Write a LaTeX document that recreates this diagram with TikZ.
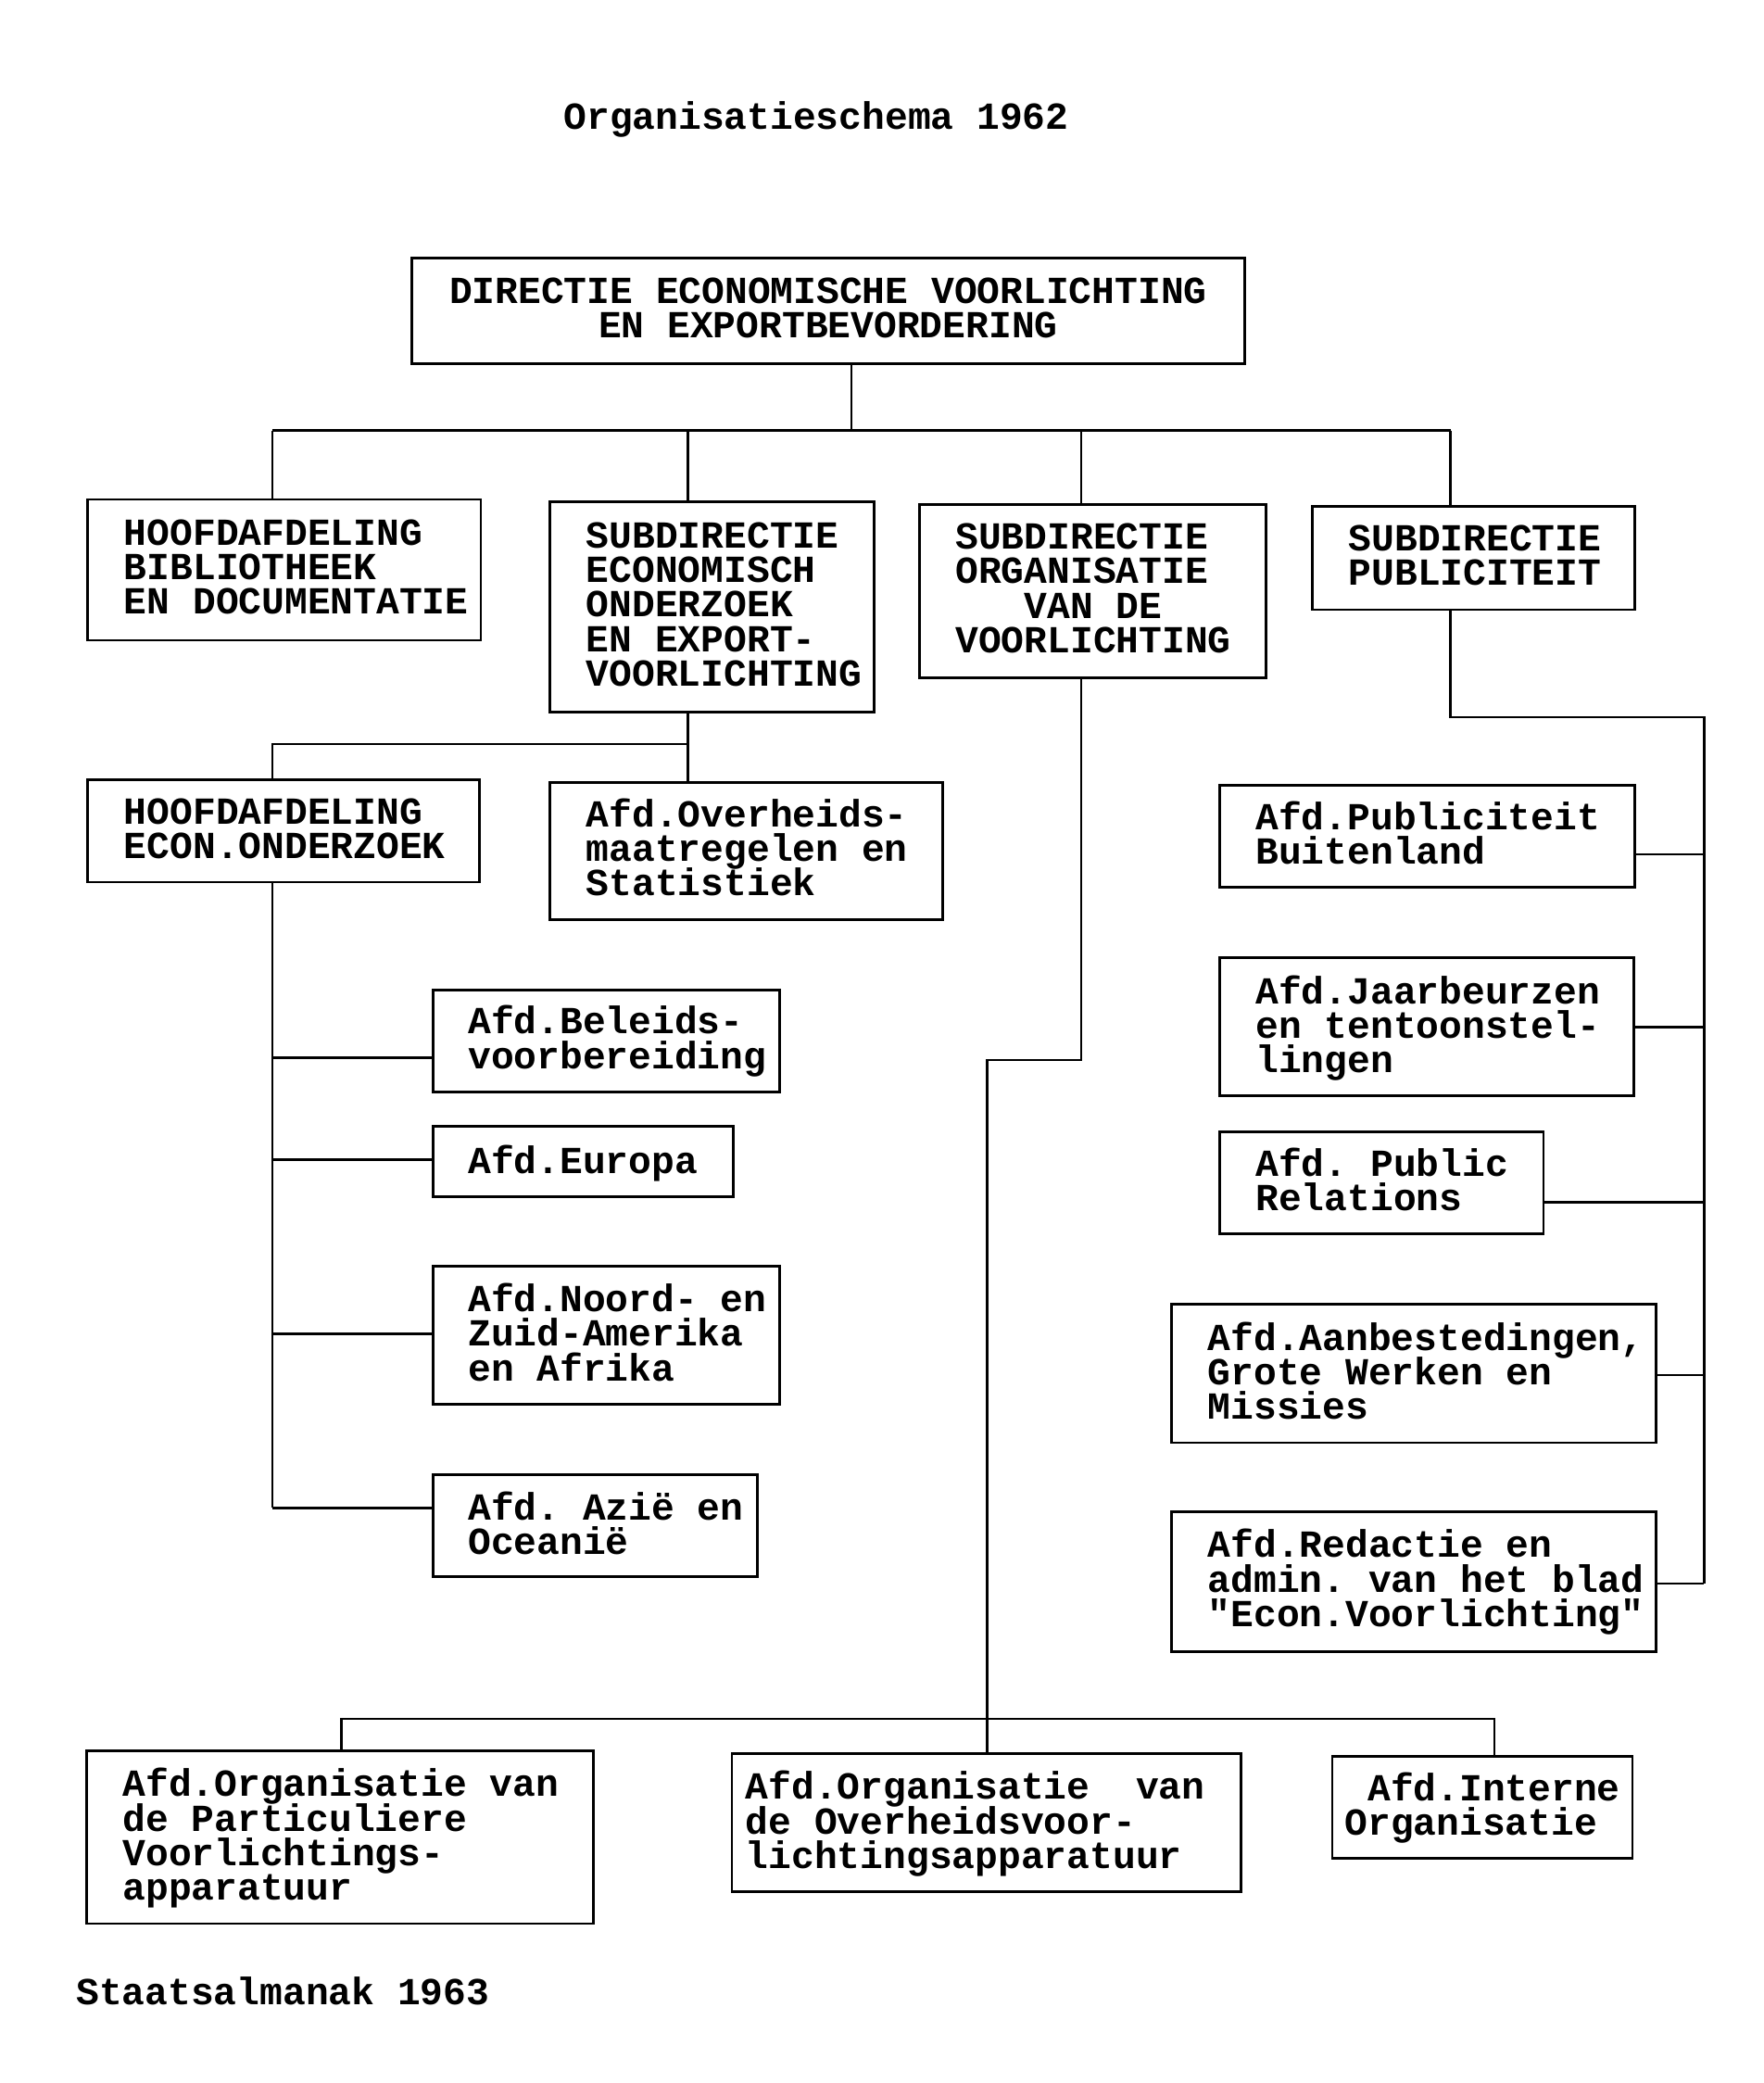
\documentclass[tikz,border=0pt]{standalone}
\usepackage{fontspec}
\newfontfamily\twfont{Liberation Mono}
\newcommand\boxfont{\twfont\bfseries\fontsize{14.4}{13}\selectfont\frenchspacing\lineskiplimit=-50pt\lineskip=0pt}
\newcommand\topstrut{\rule{0pt}{14pt}}
\tikzset{
  box/.style={draw, line width=1pt, inner sep=0pt, rectangle},
  txt/.style={inner sep=0pt, align=left, font=\boxfont},
  conn/.style={line width=0.9pt},
}
% #1 name, #2-#5 corners, #6 left padding, #7 first line y (middle of capitals), #8 text
\newcommand\bx[8]{%
  \node[box, minimum width=(#4-#2)*0.5pt, minimum height=(#5-#3)*0.5pt] (#1) at ({(#2+#4)/2},{(#3+#5)/2}) {};
  \node[txt, anchor=north west] (#1t) at ({#2+#6},{#7-19}) {\topstrut#8};}
\begin{document}
\begin{tikzpicture}[x=0.5pt,y=-0.5pt]
\useasboundingbox[fill=white] (0,0) rectangle (1328,1568);

\node[txt, anchor=base west] (title) at (424,97) {Organisatieschema 1962};
\node[txt, anchor=base west] (foot) at (57,1509) {Staatsalmanak 1963};

% top box
\node[box, minimum width=627*0.5pt, minimum height=80*0.5pt] (top) at (623.5,234) {};
\node[txt, align=center, anchor=north] (topt) at (623.5,200) {\topstrut DIRECTIE ECONOMISCHE VOORLICHTING\\EN EXPORTBEVORDERING};

\bx{b1}{66}{376}{362}{482}{27}{401}{HOOFDAFDELING\\BIBLIOTHEEK\\EN DOCUMENTATIE}
\bx{b2}{414}{378}{658}{536}{27}{403}{SUBDIRECTIE\\ECONOMISCH\\ONDERZOEK\\EN EXPORT-\\VOORLICHTING}
\bx{b3}{692}{380}{953}{510}{27}{404}{SUBDIRECTIE\\ORGANISATIE\\\phantom{VAN}VAN DE\\VOORLICHTING}
\bx{b4}{988}{381}{1231}{459}{27}{405}{SUBDIRECTIE\\PUBLICITEIT}
\bx{b5}{66}{587}{361}{664}{27}{611}{HOOFDAFDELING\\ECON.ONDERZOEK}
\bx{b6}{414}{589}{710}{692}{27}{613}{Afd.Overheids-\\maatregelen en\\Statistiek}
\bx{b7}{326}{745}{587}{822}{26}{769}{Afd.Beleids-\\voorbereiding}
\bx{b8}{326}{848}{552}{901}{26}{874}{Afd.Europa}
\bx{b9}{326}{953}{587}{1057}{26}{978}{Afd.Noord- en\\Zuid-Amerika\\en Afrika}
\bx{b10}{326}{1110}{570}{1187}{26}{1135}{Afd. Azië en\\Oceanië}
\bx{b11}{918}{591}{1231}{668}{27}{615}{Afd.Publiciteit\\Buitenland}
\bx{b12}{918}{721}{1230}{825}{27}{746}{Afd.Jaarbeurzen\\en tentoonstel-\\lingen}
\bx{b13}{918}{852}{1162}{929}{27}{876}{Afd. Public\\Relations}
\bx{b14}{882}{982}{1247}{1086}{27}{1007}{Afd.Aanbestedingen,\\Grote Werken en\\Missies}
\bx{b15}{882}{1138}{1247}{1243}{27}{1163}{Afd.Redactie en\\admin. van het blad\\"Econ.Voorlichting"}
\bx{b16}{65}{1318}{447}{1448}{27}{1343}{Afd.Organisatie van\\de Particuliere\\Voorlichtings-\\apparatuur}
\bx{b17}{551}{1320}{934}{1424}{10}{1345}{Afd.Organisatie\ \ van\\de Overheidsvoor-\\lichtingsapparatuur}
\bx{b18}{1003}{1322}{1229}{1399}{9}{1346}{\phantom{A}Afd.Interne\\Organisatie}

% top level bus
\coordinate (j0) at (641,324);
\coordinate (jL) at (205,324);
\coordinate (j2) at (518,324);
\coordinate (j3) at (814,324);
\coordinate (jR) at (1092,324);
\draw[conn] (j0 |- top.south) -- (j0);
\draw[conn] (jL) -- (jR);
\draw[conn] (jL) -- (jL |- b1.north);
\draw[conn] (j2) -- (j2 |- b2.north);
\draw[conn] (j3) -- (j3 |- b3.north);
\draw[conn] (jR) -- (jR |- b4.north);

% under subdirectie economisch onderzoek
\coordinate (k2) at (518,560);
\coordinate (k1) at (205,560);
\draw[conn] (k2 |- b2.south) -- (k2) -- (k1) -- (k1 |- b5.north);
\draw[conn] (k2) -- (k2 |- b6.north);

% under hoofdafdeling econ. onderzoek
\coordinate (l7) at (205,796);
\coordinate (l8) at (205,873);
\coordinate (l9) at (205,1004);
\coordinate (l10) at (205,1135);
\draw[conn] (l7 |- b5.south) -- (l10);
\draw[conn] (l7) -- (l7 -| b7.west);
\draw[conn] (l8) -- (l8 -| b8.west);
\draw[conn] (l9) -- (l9 -| b9.west);
\draw[conn] (l10) -- (l10 -| b10.west);

% under subdirectie publiciteit
\coordinate (r0) at (1092,540);
\coordinate (r1) at (1283,540);
\coordinate (r11) at (1283,643);
\coordinate (r12) at (1283,773);
\coordinate (r13) at (1283,905);
\coordinate (r14) at (1283,1035);
\coordinate (r15) at (1283,1192);
\draw[conn] (r0 |- b4.south) -- (r0) -- (r1) -- (r15);
\draw[conn] (r11) -- (r11 -| b11.east);
\draw[conn] (r12) -- (r12 -| b12.east);
\draw[conn] (r13) -- (r13 -| b13.east);
\draw[conn] (r14) -- (r14 -| b14.east);
\draw[conn] (r15) -- (r15 -| b15.east);

% under subdirectie organisatie
\coordinate (c1) at (814,798);
\coordinate (c2) at (743,798);
\draw[conn] (c1 |- b3.south) -- (c1) -- (c2) -- (c2 |- b17.north);
\coordinate (d1) at (257,1294);
\coordinate (d3) at (1125,1294);
\draw[conn] (d1 |- b16.north) -- (d1) -- (d3) -- (d3 |- b18.north);
\end{tikzpicture}
\end{document}
